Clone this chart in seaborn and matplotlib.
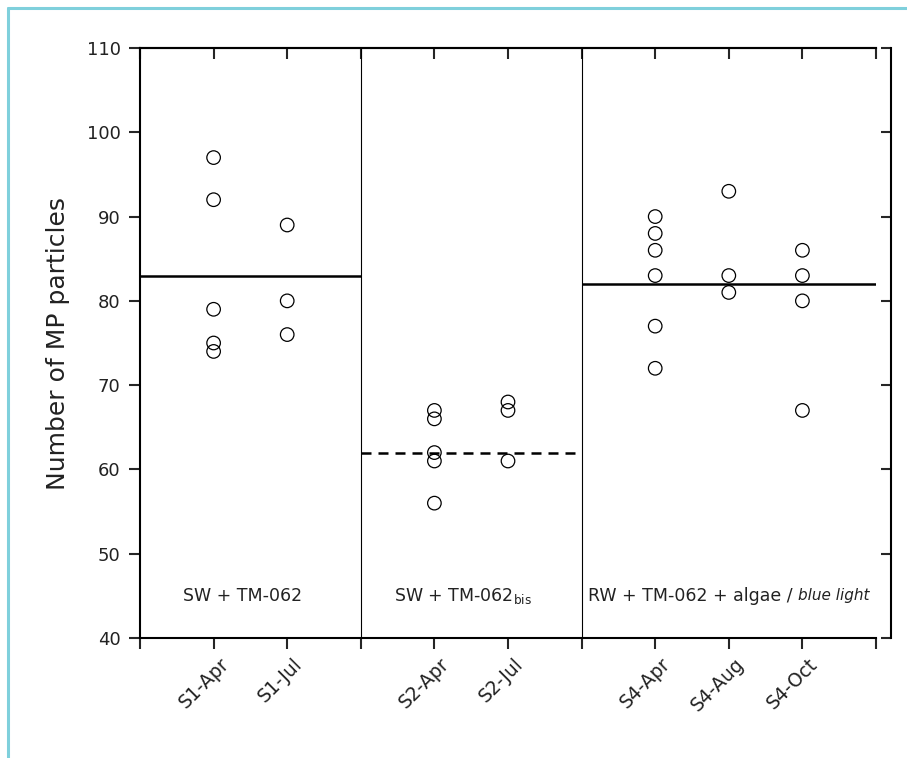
import numpy as np
import pandas as pd
import matplotlib
matplotlib.use("Agg")
import matplotlib.pyplot as plt
import matplotlib.transforms as mtransforms
import seaborn as sns
from matplotlib.lines import Line2D

# ---- data ----
categories = ["S1-Apr", "S1-Jul", "S2-Apr", "S2-Jul", "S4-Apr", "S4-Aug", "S4-Oct"]
s1_apr = [97, 92, 79, 75, 74]
s1_jul = [89, 80, 76]
s2_apr = [67, 66, 62, 61, 56]
s2_jul = [68, 67, 61]
s4_apr = [90, 88, 86, 83, 77, 72]
s4_aug = [93, 83, 81]
s4_oct = [86, 83, 80, 67]
group_means = [83, 62, 82]
group_labels = ["SW + TM-062", r"SW + TM-062$_{\mathregular{bis}}$", "RW + TM-062 + algae / "]
group_label_extra = "blue light"
y_ticks = [40, 50, 60, 70, 80, 90, 100, 110]

# ---- layout (positions on the categorical axis) ----
positions = {"S1-Apr": 1, "S1-Jul": 2, "S2-Apr": 4, "S2-Jul": 5,
             "S4-Apr": 7, "S4-Aug": 8, "S4-Oct": 9}
group_spans = [(0, 3), (3, 6), (6, 10)]

values = [s1_apr, s1_jul, s2_apr, s2_jul, s4_apr, s4_aug, s4_oct]
rows = []
for cat, vals in zip(categories, values):
    for v in vals:
        rows.append({"category": cat, "pos": positions[cat], "value": v})
df = pd.DataFrame(rows)

sns.set_theme(style="white")
plt.rcParams["font.family"] = ["DejaVu Sans"]
plt.rcParams["mathtext.fontset"] = "dejavusans"
txt_color = "#222222"

fig = plt.figure(figsize=(9.07, 7.58), dpi=100)
fig.patch.set_facecolor("white")
ax = fig.add_axes([140/907, 1-638/758, (876-140)/907, (638-48)/758])

# cyan frame (top and left edges)
fig.add_artist(Line2D([8/907, 8/907], [0, 1-8/758], transform=fig.transFigure,
                      color="#7fd0dc", lw=2.2))
fig.add_artist(Line2D([8/907, 1], [1-8/758, 1-8/758], transform=fig.transFigure,
                      color="#7fd0dc", lw=2.2))

sns.scatterplot(data=df, x="pos", y="value", ax=ax, marker="o", s=95,
                facecolor="none", edgecolor="black", linewidth=0.9, legend=False,
                zorder=3)

# group separators
for xs in [3, 6]:
    ax.axvline(xs, color="black", lw=0.8, zorder=1)

# mean lines
styles = ["-", (0, (4, 2.8)), "-"]
for (x0, x1), m, ls in zip(group_spans, group_means, styles):
    ax.hlines(m, x0, x1, colors="black", lw=1.8, linestyles=ls, zorder=2)

ax.set_xlim(0, 10)
ax.set_ylim(40, 110)
ax.set_yticks(y_ticks)
ax.set_xticks(range(0, 11))
lbls = [""] * 11
for c in categories:
    lbls[positions[c]] = c
ax.set_xticklabels(lbls, rotation=45, ha="right", rotation_mode="anchor",
                   fontsize=13.5, color=txt_color)
ax.tick_params(axis="x", direction="out", length=8, width=1.5, pad=4, bottom=True)
ax.tick_params(axis="y", direction="out", length=8, width=1.5, pad=6, left=True,
               labelsize=13, labelcolor=txt_color)
offset = mtransforms.ScaledTranslation(4/72, 0, fig.dpi_scale_trans)
for lab in ax.get_xticklabels():
    lab.set_transform(lab.get_transform() + offset)
ax.set_xlabel("")
ax.set_ylabel("Number of MP particles", fontsize=18, color=txt_color, labelpad=12)

for sp in ["left", "bottom", "top"]:
    ax.spines[sp].set_visible(True)
    ax.spines[sp].set_linewidth(1.5)
    ax.spines[sp].set_color("black")
ax.spines["right"].set_visible(False)

# top inward ticks
secx = ax.secondary_xaxis("top")
secx.set_xticks(range(0, 11))
secx.set_xticklabels([])
secx.tick_params(direction="in", length=8, width=1.5)
secx.spines["top"].set_linewidth(1.5)

# right spine, offset, with inward ticks
ax2 = ax.twinx()
ax2.set_ylim(40, 110)
ax2.set_yticks(y_ticks)
ax2.set_yticklabels([])
ax2.tick_params(axis="y", direction="in", length=7, width=1.5, right=True)
for sp in ["left", "bottom", "top"]:
    ax2.spines[sp].set_visible(False)
ax2.spines["right"].set_position(("outward", 10.8))
ax2.spines["right"].set_linewidth(1.5)
ax2.spines["right"].set_color("black")
ax2.grid(False)
ax.grid(False)

# group labels
ax.text(1.39, 45, group_labels[0], ha="center", va="center", fontsize=12.5, color=txt_color)
ax.text(4.39, 45, group_labels[1], ha="center", va="center", fontsize=12.5, color=txt_color)
t3 = ax.text(6.09, 45, group_labels[2], ha="left", va="center", fontsize=12.5, color=txt_color)
ax.annotate(group_label_extra, xy=(1, 0.5), xycoords=t3, ha="left", va="center",
            fontsize=11, style="italic", color=txt_color)

fig.savefig("out.png", dpi=100, facecolor="white")
